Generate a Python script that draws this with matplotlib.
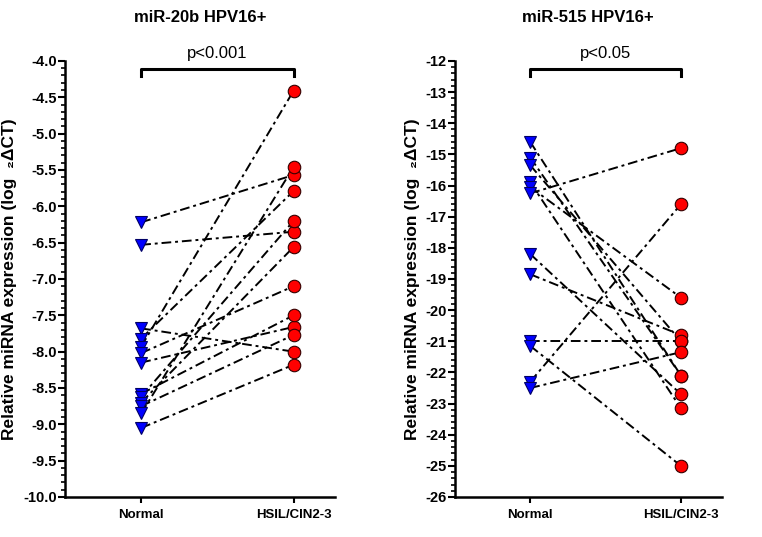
import numpy as np
import matplotlib.pyplot as plt
from matplotlib.ticker import MultipleLocator, FormatStrFormatter
import matplotlib.transforms as mtransforms

plt.rcParams["font.family"] = ["Liberation Sans", "DejaVu Sans"]
plt.rcParams["font.weight"] = "bold"

groups = ["Normal", "HSIL/CIN2-3"]

# miR-20b HPV16+ (paired samples)
mir20b_normal = [-6.22, -6.53, -7.68, -7.82, -7.93, -8.02, -8.15, -8.58, -8.62, -8.7, -8.75, -8.85, -9.05]
mir20b_hsil = [-5.57, -6.35, -8.0, -5.79, -4.41, -7.1, -7.66, -7.5, -6.2, -6.56, -7.77, -5.46, -8.18]

# miR-515 HPV16+ (paired samples)
mir515_normal = [-14.6, -15.1, -15.35, -15.9, -16.05, -16.25, -18.2, -18.85, -21.0, -21.15, -22.3, -22.5]
mir515_hsil = [-22.1, -22.1, -21.0, -23.15, -19.6, -14.8, -22.7, -20.8, -21.0, -25.0, -16.6, -21.35]

panels = [
    ("miR-20b HPV16+", mir20b_normal, mir20b_hsil, "p<0.001", (-10, -4), 0.5, 0.1, "%.1f"),
    ("miR-515 HPV16+", mir515_normal, mir515_hsil, "p<0.05", (-26, -12), 1, 0.2, "%d"),
]

fig = plt.figure(figsize=(7.62, 5.37), dpi=100)
axes_pos = [[0.0853, 0.0745, 0.354, 0.812], [0.597, 0.0745, 0.350, 0.812]]

for pos, (title, normal, hsil, ptext, ylim, major, minor, fmt) in zip(axes_pos, panels):
    ax = fig.add_axes(pos)

    # paired lines
    for a, b in zip(normal, hsil):
        ax.plot([0, 1], [a, b], color="black", linewidth=1.4, dashes=(5, 2, 1.5, 2), zorder=1)

    ax.plot(np.zeros(len(normal)), normal, linestyle="none", marker="v", markersize=9,
            markerfacecolor="#0000ff", markeredgecolor="#000066", markeredgewidth=0.8, zorder=3)
    ax.plot(np.ones(len(hsil)), hsil, linestyle="none", marker="o", markersize=9,
            markerfacecolor="#ff0000", markeredgecolor="#330000", markeredgewidth=0.8, zorder=3)

    ax.set_xlim(-0.5, 1.27)
    ax.set_ylim(*ylim)
    ax.set_xticks([0, 1])
    ax.set_xticklabels(groups, fontsize=9.5, fontweight="bold")
    ax.yaxis.set_major_locator(MultipleLocator(major))
    ax.yaxis.set_minor_locator(MultipleLocator(minor))
    ax.yaxis.set_major_formatter(FormatStrFormatter(fmt))
    ax.tick_params(axis="y", which="major", length=5, width=1.5, labelsize=10.5, pad=1)
    ax.tick_params(axis="y", which="minor", length=3, width=1.2)
    ax.tick_params(axis="x", which="major", length=4, width=1.5, pad=5)
    for lab in ax.get_yticklabels():
        lab.set_fontweight("bold")

    for side in ["top", "right"]:
        ax.spines[side].set_visible(False)
    for side in ["left", "bottom"]:
        ax.spines[side].set_linewidth(1.8)

    ax.set_ylabel("Relative miRNA expression (log  \u2082\u0394CT)", fontsize=12.5,
                  fontweight="bold", labelpad=4)
    ax.text(0.5, 1.10, title, transform=ax.transAxes, ha="center", va="center",
            fontsize=12, fontweight="bold")

    # significance bracket
    trans = mtransforms.blended_transform_factory(ax.transData, ax.transAxes)
    ax.plot([0, 0, 1, 1], [0.966, 0.982, 0.982, 0.966], color="black", linewidth=2.2,
            transform=trans, clip_on=False, zorder=4)
    ax.text(0.5, 1.0, ptext, transform=trans, ha="center", va="bottom", fontsize=12,
            fontweight="normal")

fig.savefig("out.png", dpi=100)
